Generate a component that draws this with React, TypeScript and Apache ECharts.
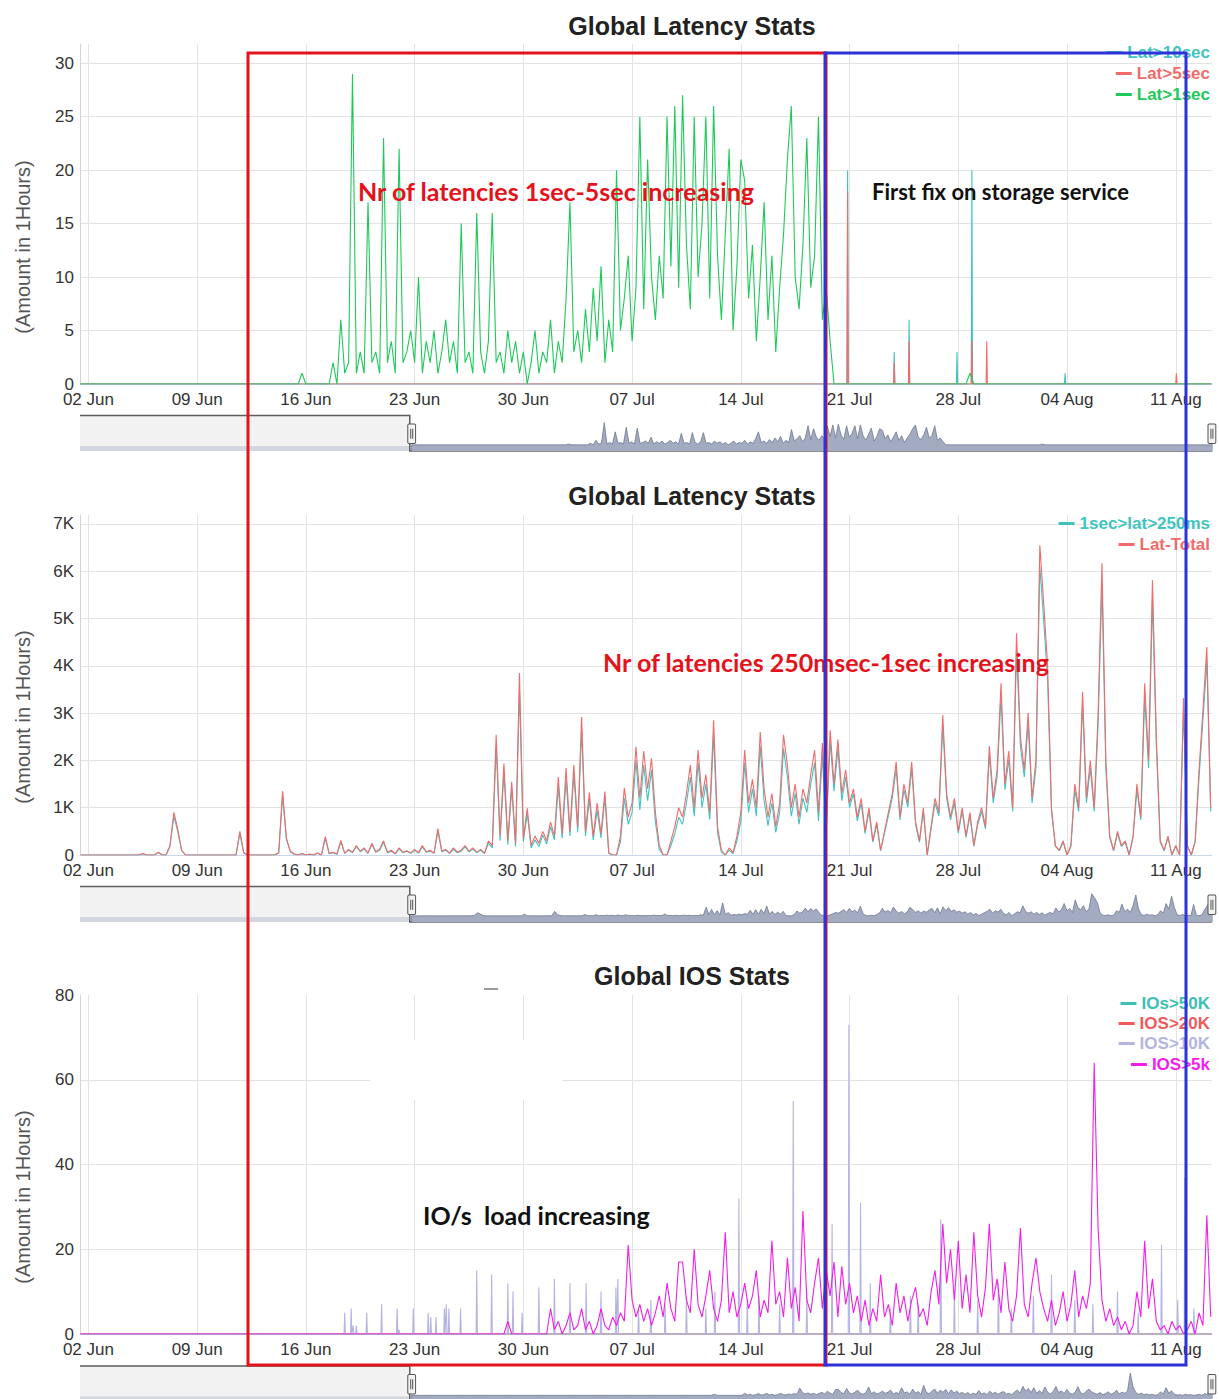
import React, { useEffect, useRef } from "react";
import * as echarts from "echarts";

// ---------- time frame ----------
const YEAR = 2019;
const AXIS_START = "05-02 12"; // first hourly category (slider start)
const AXIS_END = "08-13 08"; // last hourly category
const WINDOW_START = "06-01 11"; // visible window start (dataZoom)
const DENSE_START = "06-01 12"; // first value of the 6-hourly arrays
const DENSE_STEP_H = 6;

const weekTickLabels = ["02 Jun", "09 Jun", "16 Jun", "23 Jun", "30 Jun", "07 Jul", "14 Jul", "21 Jul", "28 Jul", "04 Aug", "11 Aug"];

const chartTitles = ["Global Latency Stats", "Global Latency Stats", "Global IOS Stats"];
const yAxisName = "(Amount in 1Hours)";

// ---------- chart 1: Global Latency Stats (6-hourly from 06-01 12:00) ----------
const lat1secValues = [
  0, 0, 0, 0, 0, 0, 0, 0, 0, 0,
  0, 0, 0, 0, 0, 0, 0, 0, 0, 0,
  0, 0, 0, 0, 0, 0, 0, 0, 0, 0,
  0, 0, 0, 0, 0, 0, 0, 0, 0, 0,
  0, 0, 0, 0, 0, 0, 0, 0, 0, 0,
  0, 0, 0, 0, 0, 0, 0, 1, 0, 0,
  0, 0, 0, 0, 0, 2, 0, 6, 1, 2,
  29, 1, 3, 1, 17, 2, 3, 1, 23, 2,
  4, 1, 22, 2, 3, 5, 2, 10, 1, 4,
  2, 5, 1, 3, 6, 2, 4, 1, 15, 2,
  3, 1, 16, 3, 1, 4, 16, 2, 3, 1,
  5, 2, 4, 1, 3, 0, 2, 5, 1, 3,
  2, 6, 1, 4, 2, 8, 17, 3, 5, 2,
  7, 3, 9, 4, 11, 2, 6, 3, 20, 5,
  8, 12, 4, 9, 25, 7, 21, 10, 6, 12,
  8, 25, 11, 26, 9, 27, 13, 7, 25, 10,
  15, 25, 8, 26, 12, 6, 14, 22, 5, 11,
  21, 19, 8, 13, 4, 10, 17, 6, 12, 3,
  9, 14, 21, 26, 10, 7, 13, 23, 9, 12,
  25, 6, 9, 4, 0, 0, 0, 0, 0, 0,
  0, 0, 0, 0, 0, 0, 0, 0, 0, 0,
  0, 0, 0, 0, 0, 0, 0, 0, 0, 0,
  0, 0, 0, 0, 0, 0, 0, 0, 0, 1,
  0, 0, 0, 0, 0, 0, 0, 0, 0, 0,
  0, 0, 0, 0, 0, 0, 0, 0, 0, 0,
  0, 0, 0, 0, 0, 0, 0, 0, 0, 0,
  0, 0, 0, 0, 0, 0, 0, 0, 0, 0,
  0, 0, 0, 0, 0, 0, 0, 0, 0, 0,
  0, 0, 0, 0, 0, 0, 0, 0, 0, 0,
  0, 0,
];
const lat10secSpikes: [string, number][] = [
  ["07-20 21", 20], ["07-23 21", 3], ["07-24 20", 6], ["07-27 22", 3], ["07-28 21", 20], ["08-03 21", 1],
];
const lat5secSpikes: [string, number][] = [
  ["07-20 21", 18], ["07-23 21", 2], ["07-24 20", 4], ["07-28 21", 4], ["07-29 20", 4], ["08-11 01", 1],
];

// ---------- chart 2: Global Latency Stats (6-hourly) ----------
const latTotalValues = [
  0, 0, 0, 0, 0, 0, 0, 0, 0, 0, 0, 0, 0, 0, 0, 0,
  30, 0, 0, 0, 60, 0, 0, 200, 900, 550, 100, 0,
  0, 0, 0, 0, 0, 0, 0, 0, 0, 0, 0, 0, 0,
  500, 50, 0, 0, 0, 0, 0, 0, 0, 0,
  50, 1350, 350, 80, 20, 0, 30, 0, 20, 0,
  40, 0, 390, 30, 60, 20, 310, 40, 120, 60,
  200, 80, 150, 40, 250, 70, 120, 300, 60, 100,
  30, 150, 60, 90, 40, 120, 50, 200, 70, 100,
  40, 560, 80, 120, 40, 150, 60, 100, 200, 80,
  150, 60, 120, 40, 300, 200, 2540, 400, 1940, 300,
  1550, 250, 3850, 350, 990, 200, 400, 250, 500, 300,
  700, 400, 1650, 450, 1840, 500, 1900, 600, 2920, 500,
  1320, 400, 1100, 450, 1340, 50, 0, 0, 400, 1420,
  800, 1100, 2290, 1200, 2200, 1400, 2050, 900, 200, 0,
  0, 300, 600, 1000, 800, 1300, 1900, 1000, 2220, 1200,
  1700, 900, 2850, 600, 100, 0, 150, 50, 400, 900,
  2220, 1100, 1600, 1000, 2600, 1400, 800, 1300, 600, 1100,
  2540, 1900, 1000, 1500, 800, 1400, 1100, 1700, 2220, 900,
  2370, 600, 2640, 1500, 2440, 1300, 1800, 1100, 1400, 800,
  1200, 500, 1000, 300, 700, 100, 500, 900, 1300, 1970,
  800, 1500, 1100, 1970, 700, 300, 1000, 0, 600, 1200,
  900, 2960, 1300, 800, 1200, 500, 1000, 400, 900, 200,
  700, 1000, 600, 2300, 1200, 1800, 3630, 1500, 2200, 1000,
  4690, 2500, 1800, 3000, 1200, 2000, 6550, 5320, 4000, 1000,
  200, 100, 300, 0, 200, 1500, 1000, 3450, 1200, 2000,
  1000, 2960, 6170, 2000, 400, 100, 500, 200, 300, 0,
  400, 1500, 800, 3630, 2000, 5810, 2500, 300, 100, 400,
  0, 200, 0, 3320, 200, 0, 300, 1800, 3070, 4400, 1000,
];
const lat250msValues = [
  0, 0, 0, 0, 0, 0, 0, 0, 0, 0, 0, 0, 0, 0, 0, 0,
  25, 0, 0, 0, 50, 0, 0, 180, 820, 500, 90, 0,
  0, 0, 0, 0, 0, 0, 0, 0, 0, 0, 0, 0, 0,
  450, 40, 0, 0, 0, 0, 0, 0, 0, 0,
  40, 1250, 320, 70, 15, 0, 25, 0, 15, 0,
  35, 0, 350, 25, 50, 15, 280, 35, 100, 50,
  180, 70, 130, 35, 220, 60, 100, 270, 50, 80,
  25, 130, 50, 80, 35, 100, 40, 170, 60, 80,
  35, 500, 70, 100, 35, 120, 50, 80, 170, 70,
  120, 50, 100, 30, 250, 150, 2300, 300, 1750, 220,
  1400, 180, 3500, 280, 880, 150, 320, 180, 420, 230,
  600, 320, 1450, 350, 1600, 400, 1700, 480, 2650, 400,
  1180, 320, 950, 360, 1200, 30, 0, 0, 280, 1200,
  650, 900, 2000, 950, 1900, 1150, 1800, 700, 120, 0,
  0, 200, 450, 800, 650, 1100, 1650, 820, 1950, 1000,
  1500, 750, 2550, 480, 60, 0, 100, 30, 300, 700,
  1950, 900, 1400, 820, 2300, 1150, 620, 1100, 480, 900,
  2250, 1650, 820, 1300, 650, 1200, 900, 1500, 1950, 720,
  2100, 480, 2400, 1350, 2250, 1150, 1650, 1000, 1300, 720,
  1100, 450, 920, 270, 640, 90, 460, 830, 1200, 1820,
  740, 1380, 1010, 1820, 640, 270, 920, 0, 550, 1100,
  830, 2750, 1200, 740, 1100, 460, 920, 370, 830, 180,
  640, 920, 550, 2120, 1100, 1650, 3350, 1380, 2020, 920,
  4350, 2300, 1650, 2780, 1100, 1840, 6100, 4950, 3700, 920,
  180, 90, 270, 0, 180, 1380, 920, 3200, 1100, 1840,
  920, 2750, 5750, 1840, 370, 90, 460, 180, 270, 0,
  370, 1380, 740, 3350, 1840, 5400, 2300, 270, 90, 370,
  0, 180, 0, 3080, 180, 0, 270, 1650, 2850, 4100, 920,
];

// ---------- chart 3: Global IOS Stats ----------
const ios5kValues = [
  0, 0, 0, 0, 0, 0, 0, 0, 0, 0,
  0, 0, 0, 0, 0, 0, 0, 0, 0, 0,
  0, 0, 0, 0, 0, 0, 0, 0, 0, 0,
  0, 0, 0, 0, 0, 0, 0, 0, 0, 0,
  0, 0, 0, 0, 0, 0, 0, 0, 0, 0,
  0, 0, 0, 0, 0, 0, 0, 0, 0, 0,
  0, 0, 0, 0, 0, 0, 0, 0, 0, 0,
  0, 0, 0, 0, 0, 0, 0, 0, 0, 0,
  0, 0, 0, 0, 0, 0, 0, 0, 0, 0,
  0, 0, 0, 0, 0, 0, 0, 0, 0, 0,
  0, 0, 0, 0, 0, 0, 0, 0, 0, 0,
  3, 0, 0, 0, 0, 0, 0, 0, 0, 0, 0,
  6, 1, 3, 0, 2, 5, 1, 2, 6, 1,
  3, 0, 2, 6, 2, 1, 4, 2, 5, 3,
  21, 8, 4, 7, 3, 6, 2, 5, 9, 4,
  12, 6, 3, 17, 17, 8, 5, 20, 7, 4,
  9, 15, 6, 3, 8, 24, 5, 10, 4, 7,
  12, 6, 9, 15, 4, 8, 5, 22, 7, 10,
  4, 18, 6, 11, 3, 29, 8, 5, 12, 18,
  6, 15, 9, 17, 4, 16, 7, 12, 5, 9,
  3, 8, 2, 6, 3, 14, 4, 7, 2, 12,
  5, 9, 3, 8, 11, 4, 6, 2, 10, 15,
  7, 26, 12, 20, 8, 22, 6, 14, 5, 24,
  9, 4, 11, 26, 8, 13, 5, 17, 6, 3,
  9, 25, 7, 4, 12, 18, 10, 6, 3, 8,
  2, 5, 10, 3, 7, 15, 4, 9, 6, 12,
  64, 25, 8, 3, 6, 2, 4, 1, 3, 0,
  2, 10, 4, 22, 6, 13, 3, 1, 2, 0,
  3, 1, 2, 0, 1, 3, 0, 5, 2, 28, 4,
];
const ios10kSpikes: [string, number][] = [
  ["06-18 12", 5], ["06-18 22", 6], ["06-19 01", 2], ["06-19 06", 2], ["06-19 22", 5], ["06-20 21", 7],
  ["06-21 21", 6], ["06-22 00", 1], ["06-22 22", 6], ["06-23 21", 5], ["06-24 01", 4], ["06-24 09", 4],
  ["06-24 22", 6], ["06-25 01", 7], ["06-25 05", 6], ["06-25 23", 6], ["06-27 00", 15], ["06-27 23", 14],
  ["06-29 00", 12], ["06-29 08", 10], ["06-29 22", 5], ["07-01 00", 11], ["07-02 00", 13], ["07-03 00", 12],
  ["07-04 01", 12], ["07-05 00", 10], ["07-05 23", 11], ["07-06 02", 13], ["07-07 10", 6], ["07-08 05", 8],
  ["07-09 03", 7], ["07-10 12", 9], ["07-11 18", 6], ["07-12 08", 10], ["07-13 21", 32], ["07-14 10", 8],
  ["07-15 04", 9], ["07-16 12", 7], ["07-17 09", 55], ["07-18 06", 10], ["07-19 21", 26], ["07-20 23", 73],
  ["07-21 17", 31], ["07-22 08", 12], ["07-23 15", 6], ["07-24 22", 9], ["07-25 10", 7], ["07-26 21", 27],
  ["07-27 18", 10], ["07-29 06", 8], ["07-30 14", 12], ["07-31 10", 6], ["08-01 20", 9], ["08-03 00", 14],
  ["08-04 12", 8], ["08-05 16", 7], ["08-07 06", 10], ["08-08 14", 5], ["08-10 02", 21], ["08-11 03", 8],
  ["08-11 14", 37], ["08-12 04", 6],
];
const ios20kSpikes: [string, number][] = [];
const ios50kSpikes: [string, number][] = [];

// ---------- colours ----------
const C_GREEN = "#1ec95a";
const C_CYAN = "#3fc4c2";
const C_RED = "#f26b6b";
const C_MAGENTA = "#f21ee9";
const C_LAVENDER = "#b4b4e2";
const C_TEAL = "#3cc0b4";
const C_RED2 = "#f05a5a";

// ---------- helpers ----------
const HOUR = 3600 * 1000;
const MONTHS = ["Jan", "Feb", "Mar", "Apr", "May", "Jun", "Jul", "Aug", "Sep", "Oct", "Nov", "Dec"];
const pad = (n: number) => (n < 10 ? "0" + n : "" + n);
function parseKey(k: string) {
  const [md, hh] = k.split(" ");
  const [m, d] = md.split("-").map(Number);
  return Date.UTC(YEAR, m - 1, d, Number(hh));
}
function keyOf(ts: number) {
  const d = new Date(ts);
  return pad(d.getUTCMonth() + 1) + "-" + pad(d.getUTCDate()) + " " + pad(d.getUTCHours());
}
const T0 = parseKey(AXIS_START);
const T1 = parseKey(AXIS_END);
const categories: string[] = [];
for (let t = T0; t <= T1; t += HOUR) categories.push(keyOf(t));
const catIndex = (k: string) => Math.round((parseKey(k) - T0) / HOUR);
const LAST_IDX = categories.length - 1;
const WIN_IDX = catIndex(WINDOW_START);

function dayLabel(v: string) {
  const ts = parseKey(v);
  const d = new Date(ts);
  if (d.getUTCHours() !== 0) return "";
  return pad(d.getUTCDate()) + " " + MONTHS[d.getUTCMonth()];
}
const isWeekTick = (_i: number, v: string) => weekTickLabels.indexOf(dayLabel(v)) >= 0;

function denseData(values: number[]) {
  const first = catIndex(DENSE_START);
  const lead = Math.round(first / DENSE_STEP_H);
  const out: (number | null)[][] = [];
  for (let k = 0; k < lead; k++) out.push([k * DENSE_STEP_H, null]);
  values.forEach((v, i) => out.push([first + i * DENSE_STEP_H, v]));
  return out;
}
function spikeData(spikes: [string, number][]) {
  const pts: number[][] = [[WIN_IDX, 0]];
  spikes.forEach(([k, v]) => {
    const i = catIndex(k);
    pts.push([i - 1, 0], [i, v], [i + 1, 0]);
  });
  pts.push([LAST_IDX, 0]);
  return pts;
}

// ---------- layout ----------
const W = 1219;
const H = 1399;
const GRID_LEFT = 80;
const GRID_RIGHT = 7;
const PLOT_W = W - GRID_LEFT - GRID_RIGHT;
const gridTops = [44, 515, 995];
const gridHeights = [340, 340, 339];
const sliderTops = [415.5, 886.5, 1366];
const SLIDER_H = 35.5;
const FONT = "'Liberation Sans', Arial, sans-serif";
const HANDLE = "path://M1,0L7,0L8,1L8,19L7,20L1,20L0,19L0,1Z M3,5L3,15 M5,5L5,15";

function buildOption() {
  const grids = gridTops.map((top, i) => ({ left: GRID_LEFT, right: GRID_RIGHT, top, height: gridHeights[i], outerBoundsMode: "none" }));

  const xAxes = gridTops.map((_, gi) => ({
    type: "category",
    gridIndex: gi,
    data: categories,
    boundaryGap: false,
    axisLine: { show: true, lineStyle: { color: "#ccd6eb" } },
    axisTick: { show: false },
    axisLabel: { interval: isWeekTick, formatter: dayLabel, color: "#333", fontSize: 17, fontFamily: FONT, margin: 7 },
    splitLine: { show: true, interval: isWeekTick, lineStyle: { color: "#e3e3e3", width: 1 } },
  }));

  const yBase = {
    type: "value",
    min: 0,
    axisLine: { show: true, lineStyle: { color: "#d4d4d4" } },
    axisTick: { show: false },
    splitLine: { show: true, showMaxLine: false, lineStyle: { color: "#e3e3e3" } },
  };
  const yLabel = { color: "#333", fontSize: 17, fontFamily: FONT, margin: 6, showMaxLabel: false };
  const yAxes = [
    { ...yBase, gridIndex: 0, max: 31.8, interval: 5, axisLabel: { ...yLabel } },
    { ...yBase, gridIndex: 1, max: 7190, interval: 1000, axisLabel: { ...yLabel, formatter: (v: number) => (v === 0 ? "0" : v / 1000 + "K") } },
    { ...yBase, gridIndex: 2, max: 80, interval: 20, axisLabel: { ...yLabel, showMaxLabel: true } },
  ];

  const line = (name: string, color: string, gi: number, data: any[], z: number) => ({
    type: "line",
    name,
    xAxisIndex: gi,
    yAxisIndex: gi,
    data,
    color,
    z,
    showSymbol: false,
    symbol: "none",
    lineStyle: { width: 1.1, color },
    silent: true,
  });

  const series = [
    line("Lat>1sec", C_GREEN, 0, denseData(lat1secValues), 4),
    line("Lat>10sec", C_CYAN, 0, spikeData(lat10secSpikes), 2),
    line("Lat>5sec", C_RED, 0, spikeData(lat5secSpikes), 3),
    line("Lat-Total", C_RED, 1, denseData(latTotalValues), 4),
    line("1sec>lat>250ms", C_CYAN, 1, denseData(lat250msValues), 2),
    line("IOS>5k", C_MAGENTA, 2, denseData(ios5kValues), 5),
    line("IOs>50K", C_TEAL, 2, spikeData(ios50kSpikes), 2),
    line("IOS>20K", C_RED2, 2, spikeData(ios20kSpikes), 2),
    line("IOS>10K", C_LAVENDER, 2, spikeData(ios10kSpikes), 3),
  ];

  const legendItems: [string, string, number][] = [
    ["Lat>10sec", C_CYAN, 52],
    ["Lat>5sec", C_RED, 73],
    ["Lat>1sec", C_GREEN, 94],
    ["1sec>lat>250ms", C_CYAN, 523],
    ["Lat-Total", C_RED, 544],
    ["IOs>50K", C_TEAL, 1003],
    ["IOS>20K", C_RED2, 1023],
    ["IOS>10K", C_LAVENDER, 1043],
    ["IOS>5k", C_MAGENTA, 1064],
  ];
  const legends = legendItems.map(([name, color, cy]) => ({
    right: 9,
    top: cy - 8,
    padding: 0,
    orient: "horizontal",
    icon: "rect",
    itemWidth: 16,
    itemHeight: 3,
    selectedMode: false,
    data: [{ name, textStyle: { color } }],
    textStyle: { fontSize: 17, fontWeight: "bold", fontFamily: FONT, color },
  }));

  const shadow = { lineStyle: { color: "#6e7893", width: 0.8, opacity: 1 }, areaStyle: { color: "#a3abc0", opacity: 1 } };
  const dataZoom = gridTops.map((_, gi) => ({
    type: "slider",
    xAxisIndex: gi,
    startValue: WIN_IDX,
    endValue: LAST_IDX,
    left: GRID_LEFT,
    right: GRID_RIGHT,
    top: sliderTops[gi],
    height: SLIDER_H,
    filterMode: "none",
    showDetail: false,
    brushSelect: false,
    moveHandleSize: 0,
    moveHandleStyle: { opacity: 0 },
    backgroundColor: "rgba(0,0,0,0)",
    borderColor: "rgba(0,0,0,0)",
    fillerColor: "rgba(0,0,0,0)",
    handleIcon: HANDLE,
    handleSize: "55%",
    handleStyle: { color: "#f2f2f2", borderColor: "#555", borderWidth: 1 },
    dataBackground: shadow,
    selectedDataBackground: shadow,
  }));

  const handleX = GRID_LEFT + (PLOT_W * WIN_IDX) / LAST_IDX;
  const els: any[] = [];
  const txt = (text: string, x: number, y: number, font: string, fill: string, align = "center", z = 100, rotation = 0) => ({
    type: "text",
    x,
    y,
    z,
    rotation,
    silent: true,
    style: { text, font, fill, align, textAlign: align, verticalAlign: "middle", textVerticalAlign: "middle" },
  });
  const titleY = [26, 496, 976];
  chartTitles.forEach((t, i) => els.push(txt(t, 692, titleY[i], `bold 25px ${FONT}`, "#222", "center", 10)));
  const nameY = [247, 717, 1197];
  nameY.forEach((y) => els.push(txt(yAxisName, 23, y, `20px ${FONT}`, "#555", "center", 10, Math.PI / 2)));

  sliderTops.forEach((top) => {
    const bottom = top + SLIDER_H;
    els.push({ type: "rect", z: 1, silent: true, shape: { x: GRID_LEFT, y: top, width: handleX - GRID_LEFT, height: SLIDER_H }, style: { fill: "#f2f2f2" } });
    els.push({ type: "rect", z: 1, silent: true, shape: { x: GRID_LEFT, y: bottom - 5, width: handleX - GRID_LEFT, height: 5 }, style: { fill: "#d3d6de" } });
    els.push({
      type: "polyline",
      z: 2,
      silent: true,
      shape: { points: [[GRID_LEFT, top], [handleX, top], [handleX, bottom], [W - GRID_RIGHT, bottom]] },
      style: { stroke: "#5c5c5c", lineWidth: 1.5, fill: "none" },
    });
  });

  // white patch and small dash in the IOS chart
  els.push({ type: "rect", z: 1, silent: true, shape: { x: 370, y: 1040, width: 192, height: 60 }, style: { fill: "#ffffff" } });
  els.push({ type: "line", z: 1, silent: true, shape: { x1: 484, y1: 989, x2: 498, y2: 989 }, style: { stroke: "#9a9a9a", lineWidth: 2 } });

  // annotations
  const AFONT = "Lato, 'Open Sans', sans-serif";
  els.push(txt("Nr of latencies 1sec-5sec increasing", 358, 191, `bold 25px ${AFONT}`, "#e3121b", "left"));
  els.push(txt("First fix on storage service", 872, 191, `bold 22px ${AFONT}`, "#111", "left"));
  els.push(txt("Nr of latencies 250msec-1sec increasing", 603, 662, `bold 25px ${AFONT}`, "#e3121b", "left"));
  els.push(txt("IO/s  load increasing", 423, 1215, `bold 25px ${AFONT}`, "#111", "left"));

  // red and blue highlight boxes
  els.push({ type: "rect", z: 120, silent: true, shape: { x: 248, y: 53, width: 578, height: 1312 }, style: { fill: "none", stroke: "#e3121b", lineWidth: 3 } });
  els.push({ type: "rect", z: 121, silent: true, shape: { x: 825, y: 53, width: 361, height: 1312 }, style: { fill: "none", stroke: "#2b33d9", lineWidth: 3 } });

  return {
    animation: false,
    backgroundColor: "#ffffff",
    textStyle: { fontFamily: FONT },
    grid: grids,
    xAxis: xAxes,
    yAxis: yAxes,
    series,
    legend: legends,
    dataZoom,
    graphic: { elements: els },
  };
}

export default function App() {
  const ref = useRef<HTMLDivElement>(null);
  useEffect(() => {
    if (!ref.current) return;
    const chart = echarts.init(ref.current, undefined, { renderer: "svg" });
    chart.setOption(buildOption() as any);
    return () => chart.dispose();
  }, []);
  return <div ref={ref} style={{ position: "absolute", left: 0, top: 0, width: W, height: H, background: "#fff" }} />;
}
